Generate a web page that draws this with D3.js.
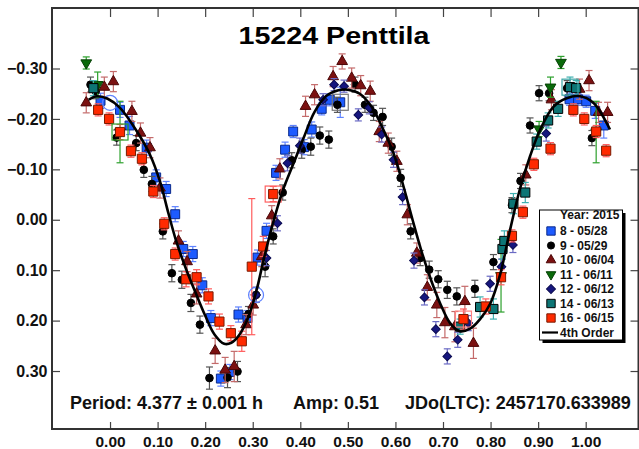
<!DOCTYPE html>
<html><head><meta charset="utf-8">
<script src="https://cdn.jsdelivr.net/npm/d3@7"></script>
<style>
html,body{margin:0;padding:0;background:#fff;}
svg{display:block;font-family:"Liberation Sans",Arial,sans-serif;}
</style></head>
<body><svg id="c" width="639" height="449"></svg>
<script>
// ---- data: [phase, magnitude, error] ----
const s8 = [[-0.020,-0.236,0.015],[0.021,-0.218,0.015],[0.041,-0.187,0.018],[0.077,-0.143,0.015],[0.097,-0.084,0.015],[0.118,-0.061,0.015],[0.137,-0.011,0.015],[0.154,0.058,0.015],[0.174,0.068,0.015],[0.194,0.130,0.015],[0.212,0.195,0.015],[0.233,0.315,0.015],[0.252,0.302,0.015],[0.270,0.188,0.015],[0.289,0.195,0.015],[0.310,0.075,0.015],[0.329,0.022,0.015],[0.349,-0.093,0.015],[0.368,-0.139,0.015],[0.385,-0.175,0.012],[0.408,-0.144,0.015],[0.424,-0.179,0.015],[0.445,-0.220,0.012],[0.462,-0.238,0.012],[0.484,-0.233,0.030],[0.966,-0.239,0.012],[0.984,-0.239,0.012],[1.001,-0.235,0.012],[1.020,-0.216,0.015],[1.038,-0.187,0.025]];
const s9 = [[-0.041,-0.268,0.015],[-0.030,-0.255,0.015],[0.014,-0.163,0.015],[0.055,-0.152,0.015],[0.071,-0.099,0.015],[0.088,-0.071,0.015],[0.111,0.023,0.015],[0.130,0.106,0.017],[0.151,0.119,0.017],[0.170,0.165,0.017],[0.189,0.208,0.017],[0.209,0.314,0.022],[0.247,0.313,0.020],[0.268,0.301,0.020],[0.291,0.187,0.015],[0.307,0.149,0.015],[0.326,0.093,0.020],[0.343,0.033,0.015],[0.363,-0.054,0.015],[0.382,-0.118,0.015],[0.403,-0.139,0.017],[0.422,-0.145,0.017],[0.441,-0.167,0.017],[0.460,-0.159,0.017],[0.478,-0.228,0.015],[0.515,-0.268,0.015],[0.536,-0.228,0.015],[0.554,-0.212,0.015],[0.573,-0.204,0.017],[0.592,-0.145,0.017],[0.611,-0.083,0.017],[0.632,0.023,0.015],[0.652,0.076,0.015],[0.671,0.099,0.017],[0.690,0.118,0.017],[0.709,0.139,0.017],[0.729,0.152,0.017],[0.767,0.137,0.017],[0.806,0.084,0.015],[0.845,-0.029,0.015],[0.863,-0.077,0.015],[0.883,-0.187,0.015],[0.902,-0.251,0.015],[0.923,-0.251,0.015],[0.961,-0.261,0.015],[1.013,-0.162,0.015]];
const s10 = [[-0.050,-0.232,0.020],[-0.012,-0.263,0.020],[0.007,-0.274,0.020],[0.046,-0.215,0.020],[0.064,-0.172,0.020],[0.084,-0.143,0.020],[0.105,-0.063,0.020],[0.144,0.042,0.020],[0.162,0.083,0.020],[0.182,0.147,0.020],[0.221,0.260,0.025],[0.242,0.298,0.025],[0.261,0.291,0.030],[0.286,0.208,0.020],[0.301,0.169,0.020],[0.319,0.073,0.020],[0.340,-0.008,0.020],[0.357,-0.101,0.020],[0.411,-0.225,0.020],[0.430,-0.248,0.020],[0.469,-0.284,0.020],[0.488,-0.314,0.015],[0.508,-0.281,0.020],[0.527,-0.266,0.020],[0.547,-0.255,0.020],[0.566,-0.175,0.020],[0.585,-0.152,0.020],[0.603,-0.116,0.020],[0.625,-0.010,0.020],[0.645,0.066,0.020],[0.667,0.134,0.025],[0.687,0.169,0.025],[0.704,0.204,0.030],[0.725,0.212,0.030],[0.746,0.162,0.030],[0.764,0.245,0.030],[0.874,-0.089,0.020],[0.928,-0.238,0.020],[0.987,-0.259,0.020],[1.007,-0.276,0.020],[1.027,-0.213,0.020],[1.046,-0.213,0.020]];
const s11 = [[-0.050,-0.311,0.012],[-0.026,-0.268,0.025],[0.021,-0.174,0.061],[0.822,0.111,0.072],[0.902,-0.180,0.015],[0.926,-0.263,0.020],[0.948,-0.312,0.012],[1.022,-0.174,0.061]];
const s12 = [[0.307,0.149,0.015],[0.329,0.076,0.015],[0.352,0.007,0.015],[0.373,-0.112,0.015],[0.399,-0.147,0.015],[0.448,-0.238,0.012],[0.471,-0.268,0.012],[0.492,-0.265,0.012],[0.522,-0.208,0.012],[0.545,-0.222,0.012],[0.571,-0.169,0.015],[0.596,-0.119,0.015],[0.615,-0.045,0.015],[0.639,0.081,0.015],[0.661,0.154,0.015],[0.685,0.217,0.015],[0.709,0.271,0.015],[0.731,0.238,0.015],[0.753,0.205,0.015],[0.799,0.127,0.015],[0.823,0.093,0.015],[0.847,0.050,0.015],[0.917,-0.171,0.015]];
const s14 = [[-0.035,-0.261,0.015],[0.736,0.212,0.015],[0.778,0.173,0.020],[0.806,0.177,0.020],[0.825,0.058,0.020],[0.829,0.042,0.020],[0.848,-0.032,0.020],[0.873,-0.054,0.020],[0.897,-0.155,0.015],[0.921,-0.197,0.015],[0.942,-0.220,0.015],[0.967,-0.263,0.020],[0.980,-0.261,0.015]];
const s16 = [[-0.025,-0.218,0.012],[-0.002,-0.200,0.012],[0.021,-0.174,0.015],[0.044,-0.136,0.012],[0.067,-0.121,0.012],[0.091,-0.056,0.012],[0.114,0.008,0.012],[0.137,0.068,0.012],[0.160,0.118,0.015],[0.182,0.114,0.015],[0.207,0.152,0.015],[0.230,0.202,0.015],[0.254,0.225,0.015],[0.277,0.241,0.020],[0.298,0.093,0.135],[0.322,0.053,0.020],[0.343,-0.051,0.015],[0.743,0.197,0.020],[0.790,0.172,0.015],[0.822,0.114,0.015],[0.845,0.032,0.012],[0.868,-0.015,0.012],[0.891,-0.110,0.012],[0.926,-0.141,0.012],[0.974,-0.218,0.012],[0.997,-0.200,0.012],[1.022,-0.175,0.012],[1.043,-0.137,0.012]];
// first-point highlight markers: [phase, magnitude]
const ringCircles = [[0.000,-0.232],[0.307,0.149]];
const ringSquares = [[0.021,-0.174,"#2ca02c"],[0.343,-0.051,"#ff6060"],[0.484,-0.233,"#777777"],[0.967,-0.263,"#3aa6a6"],[0.743,0.197,"#ff8080"]];
// 4th order Fourier fit
const fitCurve = [[-0.045,-0.238],[-0.028,-0.245],[-0.005,-0.240],[0.021,-0.222],[0.056,-0.176],[0.084,-0.129],[0.105,-0.076],[0.123,-0.012],[0.140,0.045],[0.160,0.098],[0.180,0.145],[0.200,0.190],[0.220,0.228],[0.240,0.246],[0.255,0.244],[0.272,0.228],[0.290,0.195],[0.308,0.140],[0.322,0.083],[0.336,0.030],[0.350,-0.018],[0.364,-0.060],[0.385,-0.110],[0.406,-0.160],[0.430,-0.214],[0.455,-0.246],[0.480,-0.257],[0.500,-0.258],[0.525,-0.250],[0.550,-0.224],[0.570,-0.188],[0.596,-0.132],[0.617,-0.066],[0.636,0.000],[0.655,0.063],[0.675,0.120],[0.695,0.168],[0.715,0.205],[0.735,0.221],[0.757,0.216],[0.778,0.197],[0.800,0.165],[0.820,0.109],[0.841,0.020],[0.862,-0.062],[0.883,-0.126],[0.904,-0.178],[0.932,-0.224],[0.960,-0.241],[0.988,-0.245],[1.016,-0.232],[1.051,-0.179]];
const xTicks = [0,0.1,0.2,0.3,0.4,0.5,0.6,0.7,0.8,0.9,1.0];
const yTicks = [-0.3,-0.2,-0.1,0,0.1,0.2,0.3];
const seriesNames = ["8 - 05/28","9 - 05/29","10 - 06/04","11 - 06/11","12 - 06/12","14 - 06/13","16 - 06/15"];
const titleText = "15224 Penttila";
const legendTitle = "Year: 2015";
const fitName = "4th Order";
const notes = ["Period: 4.377 \u00B1 0.001 h","Amp: 0.51","JDo(LTC): 2457170.633989"];

// ---- styles ----
const styles = [
  {data:s8,  shape:"square",  fill:"#1d5bff", stroke:"#0b2a8c", err:"#5f83ff", size:80},
  {data:s9,  shape:"circle",  fill:"#000000", stroke:"#000000", err:"#555555", size:46},
  {data:s10, shape:"tri",     fill:"#7b1111", stroke:"#4a0606", err:"#c46a6a", size:50},
  {data:s11, shape:"tridown", fill:"#0a6a0a", stroke:"#064006", err:"#2ca02c", size:50},
  {data:s12, shape:"diamond", fill:"#16167e", stroke:"#0a0a50", err:"#6a6ac4", size:38},
  {data:s14, shape:"square",  fill:"#0d7575", stroke:"#000000", err:"#3fb0b0", size:84},
  {data:s16, shape:"square",  fill:"#ff2a00", stroke:"#7a1a00", err:"#ff5c5c", size:84}
];

const svg = d3.select("#c");
const L = 52, R = 638.5, T = 8, B = 429;
const x = d3.scaleLinear().domain([-0.122, 1.111]).range([L, R]);
const y = d3.scaleLinear().domain([-0.42, 0.415]).range([T, B]);

function symPath(shape, size){
  const t = {square:d3.symbolSquare, circle:d3.symbolCircle, tri:d3.symbolTriangle, tridown:d3.symbolTriangle, diamond:d3.symbolSquare}[shape];
  return d3.symbol().type(t).size(size)();
}
function symRot(shape){ return shape==="tridown" ? 180 : (shape==="diamond" ? 45 : 0); }

// axes
const axG = svg.append("g");
const gB = axG.append("g").attr("transform",`translate(0,${B})`)
  .call(d3.axisBottom(x).tickValues(xTicks).tickSize(-7).tickPadding(7).tickFormat(d3.format(".2f")));
axG.append("g").attr("transform",`translate(0,${T})`)
  .call(d3.axisTop(x).tickValues(xTicks).tickSize(-9).tickFormat(""));
const gL = axG.append("g").attr("transform",`translate(${L},0)`)
  .call(d3.axisLeft(y).tickValues(yTicks).tickSize(-8).tickPadding(4.5).tickFormat(d3.format(".2f")));
axG.append("g").attr("transform",`translate(${R},0)`)
  .call(d3.axisRight(y).tickValues(yTicks).tickSize(-8).tickFormat(""));
axG.selectAll(".domain").remove();
axG.selectAll(".tick line").attr("stroke","#444").attr("stroke-width",1.2);
axG.selectAll("text").attr("font-family","'Liberation Sans',Arial,sans-serif")
  .attr("font-weight","bold").attr("fill","#111");
gB.selectAll("text").attr("font-size",15.5);
gL.selectAll("text").attr("font-size",16);
svg.append("rect").attr("x",L).attr("y",T).attr("width",R-L).attr("height",B-T)
  .attr("fill","none").attr("stroke","#333").attr("stroke-width",2);

// title
svg.append("text").attr("x",334).attr("y",44).attr("text-anchor","middle")
  .attr("font-size",24).attr("font-weight","bold").attr("fill","#000")
  .attr("textLength",191).attr("lengthAdjust","spacingAndGlyphs").text(titleText);

// notes
const notePos = [70, 293, 405];
notes.forEach((t,i)=>{
  svg.append("text").attr("x",notePos[i]).attr("y",409).attr("font-size",18)
    .attr("font-weight","bold").attr("fill","#111").text(t);
});

// series
const pts = svg.append("g");
styles.forEach(st=>{
  const g = pts.append("g");
  const eb = g.append("g").attr("stroke",st.err).attr("stroke-width",1.2).attr("fill","none");
  st.data.forEach(d=>{
    const px = x(d[0]), y1 = y(d[1]-d[2]), y2 = y(d[1]+d[2]);
    eb.append("line").attr("x1",px).attr("x2",px).attr("y1",y1).attr("y2",y2);
    eb.append("line").attr("x1",px-3.5).attr("x2",px+3.5).attr("y1",y1).attr("y2",y1);
    eb.append("line").attr("x1",px-3.5).attr("x2",px+3.5).attr("y1",y2).attr("y2",y2);
  });
  g.selectAll("path.m").data(st.data).join("path").attr("class","m")
    .attr("d",symPath(st.shape,st.size))
    .attr("transform",d=>`translate(${x(d[0])},${y(d[1])}) rotate(${symRot(st.shape)})`)
    .attr("fill",st.fill).attr("stroke",st.stroke).attr("stroke-width",1);
});

// highlight rings
pts.selectAll("circle.ring").data(ringCircles).join("circle").attr("class","ring")
  .attr("cx",d=>x(d[0])).attr("cy",d=>y(d[1])).attr("r",7.5)
  .attr("fill","none").attr("stroke","#5f83ff").attr("stroke-width",1.2);
pts.selectAll("rect.ring").data(ringSquares).join("rect").attr("class","ring")
  .attr("x",d=>x(d[0])-8).attr("y",d=>y(d[1])-8).attr("width",16).attr("height",16)
  .attr("fill","none").attr("stroke",d=>d[2]).attr("stroke-width",1.2);

// fit curve
svg.append("path").datum(fitCurve)
  .attr("d",d3.line().x(d=>x(d[0])).y(d=>y(d[1])).curve(d3.curveCatmullRom.alpha(0.5)))
  .attr("fill","none").attr("stroke","#000").attr("stroke-width",2.6);

// legend
const lg = svg.append("g");
const lx = 539.5, ly = 210, lw = 83, lh = 130;
lg.append("rect").attr("x",lx+3).attr("y",ly+3).attr("width",lw).attr("height",lh).attr("fill","#000");
lg.append("rect").attr("x",lx).attr("y",ly).attr("width",lw).attr("height",lh)
  .attr("fill","#fff").attr("stroke","#000").attr("stroke-width",1);
lg.append("text").attr("x",560).attr("y",218.5).attr("font-size",12).attr("font-weight","bold")
  .attr("fill","#111").text(legendTitle);
const rowY = i => 231 + i*14.5;
styles.forEach((st,i)=>{
  lg.append("path").attr("d",symPath(st.shape, st.shape==="circle"?40:(st.shape==="square"?70:40)))
    .attr("transform",`translate(551,${rowY(i)}) rotate(${symRot(st.shape)})`)
    .attr("fill",st.fill).attr("stroke",st.stroke).attr("stroke-width",1);
  lg.append("text").attr("x",560).attr("y",rowY(i)+4.3).attr("font-size",12)
    .attr("font-weight","bold").attr("fill","#111").text(seriesNames[i]);
});
lg.append("line").attr("x1",542).attr("x2",558).attr("y1",rowY(7)).attr("y2",rowY(7))
  .attr("stroke","#000").attr("stroke-width",2.2);
lg.append("text").attr("x",560).attr("y",rowY(7)+4.3).attr("font-size",12)
  .attr("font-weight","bold").attr("fill","#111").text(fitName);
</script></body></html>
